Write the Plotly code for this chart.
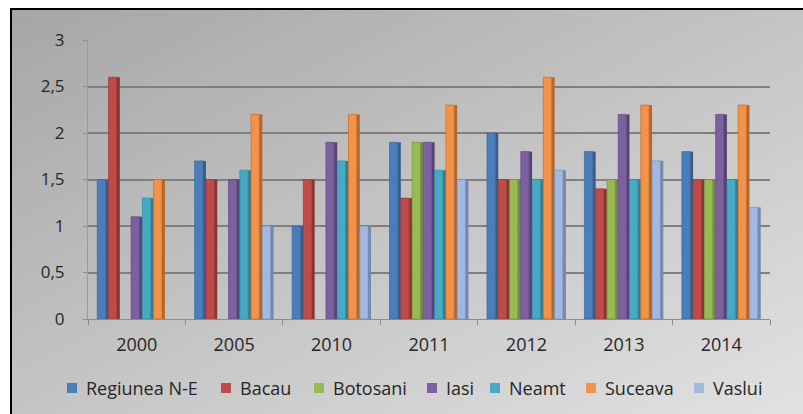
import base64
import plotly.graph_objects as go

years = ["2000", "2005", "2010", "2011", "2012", "2013", "2014"]
series_names = ["Regiunea N-E", "Bacau", "Botosani", "Iasi", "Neamt", "Suceava", "Vaslui"]
regiunea_ne = [1.5, 1.7, 1.0, 1.9, 2.0, 1.8, 1.8]
bacau = [2.6, 1.5, 1.5, 1.3, 1.5, 1.4, 1.5]
botosani = [None, None, None, 1.9, 1.5, 1.5, 1.5]
iasi = [1.1, 1.5, 1.9, 1.9, 1.8, 2.2, 2.2]
neamt = [1.3, 1.6, 1.7, 1.6, 1.5, 1.5, 1.5]
suceava = [1.5, 2.2, 2.2, 2.3, 2.6, 2.3, 2.3]
vaslui = [None, 1.0, 1.0, 1.5, 1.6, 1.7, 1.2]
values = [regiunea_ne, bacau, botosani, iasi, neamt, suceava, vaslui]
colors = ["#4A7EBB", "#BE4B48", "#98B954", "#7D60A0", "#46AAC5", "#F3924A", "#A3B8DF"]
sides = ["#345E92", "#8E312F", "#718C3B", "#5A4079", "#2F8198", "#BB6520", "#7189B5"]

# legend layout (pixel position of each legend square's left edge)
legend_px = [67, 221, 314, 427, 490, 586, 694]
LEGEND_Y = 388

W, H = 803, 414
ML, MR, MT, MB = 88, 33, 40, 95
PW, PH = W - ML - MR, H - MT - MB


def px_x(p):
    return (p - ML) / PW


def px_y(p):
    return (H - MB - p) / PH


GROUP = 0.81
SLOT = GROUP / len(series_names)
FRONT = SLOT * 0.74

fig = go.Figure()
for i, (name, vals, c, s) in enumerate(zip(series_names, values, colors, sides)):
    off = -GROUP / 2 + i * SLOT
    fig.add_trace(go.Bar(
        x=years, y=vals, name=name, showlegend=False,
        offset=off, width=FRONT,
        marker=dict(color=c, line=dict(color=s, width=0.6)),
    ))
    fig.add_trace(go.Bar(
        x=years, y=vals, name=name, showlegend=False, hoverinfo="skip",
        offset=off + FRONT, width=SLOT - FRONT,
        marker=dict(color=s, line=dict(width=0)),
    ))

svg = (
    '<svg xmlns="http://www.w3.org/2000/svg" width="800" height="410" preserveAspectRatio="none">'
    '<defs><linearGradient id="g" x1="0" y1="0" x2="1" y2="1">'
    '<stop offset="0" stop-color="#a6a6a6"/>'
    '<stop offset="0.5" stop-color="#c4c4c4"/>'
    '<stop offset="1" stop-color="#e2e2e2"/>'
    '</linearGradient></defs>'
    '<rect width="800" height="410" fill="url(#g)"/></svg>'
)
src = "data:image/svg+xml;base64," + base64.b64encode(svg.encode()).decode()

font_family = "Open Sans, Lato, sans-serif"
text_color = "#262626"

shapes = [
    dict(type="line", xref="paper", yref="paper",
         x0=px_x(11), x1=px_x(803), y0=px_y(9), y1=px_y(9),
         line=dict(color="black", width=2)),
    dict(type="line", xref="paper", yref="paper",
         x0=px_x(11), x1=px_x(11), y0=px_y(8), y1=px_y(414),
         line=dict(color="black", width=2)),
]
annotations = []
SQ = 10
for name, c, lx in zip(series_names, colors, legend_px):
    shapes.append(dict(
        type="rect", xref="paper", yref="paper",
        x0=px_x(lx), x1=px_x(lx + SQ), y0=px_y(LEGEND_Y + SQ / 2), y1=px_y(LEGEND_Y - SQ / 2),
        line=dict(width=0), fillcolor=c,
    ))
    annotations.append(dict(
        text=name, xref="paper", yref="paper", x=px_x(lx + 17), y=px_y(LEGEND_Y),
        xanchor="left", yanchor="middle", showarrow=False,
        font=dict(family=font_family, size=18, color=text_color),
    ))

fig.update_layout(
    width=W, height=H,
    margin=dict(l=ML, r=MR, t=MT, b=MB, autoexpand=False),
    paper_bgcolor="white",
    plot_bgcolor="rgba(0,0,0,0)",
    separators=",.",
    barmode="overlay",
    showlegend=False,
    font=dict(family=font_family, size=16, color=text_color),
    images=[dict(
        source=src, xref="paper", yref="paper",
        x=px_x(10), y=px_y(8), sizex=px_x(803) - px_x(10), sizey=px_y(8) - px_y(414),
        xanchor="left", yanchor="top", sizing="stretch", layer="below",
    )],
    shapes=shapes,
    annotations=annotations,
    xaxis=dict(
        showline=True, linecolor="#8c8c8c", linewidth=1,
        ticks="outside", tickson="boundaries", ticklen=5, tickcolor="#8c8c8c",
        ticklabelstandoff=9,
        tickfont=dict(family=font_family, size=18, color=text_color),
    ),
    yaxis=dict(
        range=[0, 3], dtick=0.5, showgrid=True, gridcolor="#7f7f7f", gridwidth=1.5,
        showline=True, linecolor="#9a9a9a", linewidth=1,
        ticks="outside", ticklen=4, tickcolor="#8c8c8c", ticklabelstandoff=15,
        zeroline=False,
        tickfont=dict(family=font_family, size=17, color=text_color),
    ),
)

fig.write_html("out.html")
